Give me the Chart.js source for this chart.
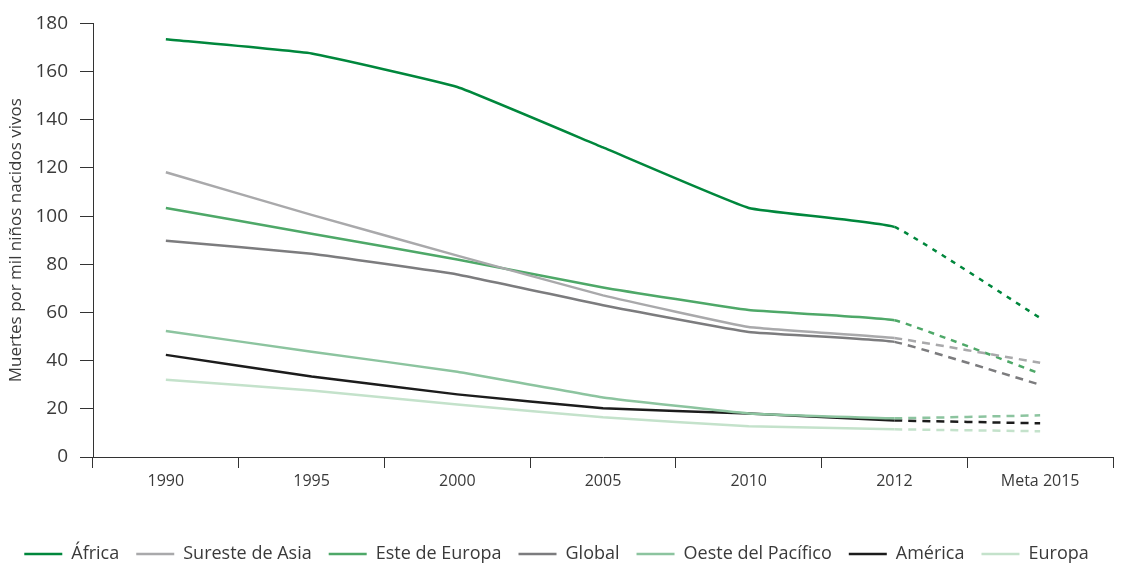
<!DOCTYPE html>
<html>
<head>
<meta charset="utf-8">
<script src="https://cdn.jsdelivr.net/npm/chart.js@4/dist/chart.umd.min.js"></script>
<style>
  html, body { margin: 0; padding: 0; background: #fff; }
  #wrap { width: 1141px; height: 564px; position: relative; }
</style>
</head>
<body>
<div id="wrap"><canvas id="chart"></canvas></div>
<script>
const years = ['1990', '1995', '2000', '2005', '2010', '2012', 'Meta 2015'];

const africa = [173.4, 167.5, 153.6, 128.5, 103.4, 95.5, 57.7];
const suresteAsia = [118.2, 100.5, 83.6, 67.1, 54, 49.4, 39.1];
const esteEuropa = [103.4, 92.7, 82, 70.4, 61, 56.8, 34.6];
const global = [89.8, 84.4, 75.8, 63, 51.9, 47.8, 30];
const oestePacifico = [52.3, 43.7, 35.4, 24.7, 18.1, 16.1, 17.3];
const america = [42.4, 33.4, 26, 20.2, 18.1, 15.2, 14];
const europa = [32.1, 27.6, 21.8, 16.5, 12.8, 11.5, 10.7];

const yTicks = [0, 20, 40, 60, 80, 100, 120, 140, 160, 180];

const FONT = '"Open Sans", "Noto Sans", sans-serif';
const TEXT = '#3a3a3a';
const AXIS = '#333333';

// last segment (2012 -> Meta 2015) is a target, drawn dashed
function series(label, data, color, dash) {
  return {
    label: label,
    data: data,
    borderColor: color,
    backgroundColor: color,
    borderWidth: 2.5,
    pointRadius: 0,
    pointHoverRadius: 0,
    tension: 0.1,
    fill: false,
    segment: {
      borderDash: ctx => ctx.p1DataIndex === data.length - 1 ? dash : undefined
    }
  };
}

const legendHeight = {
  id: 'legendHeight',
  beforeUpdate(chart) {
    const lg = chart.legend;
    if (lg && !lg._patched) {
      const fit = lg.fit.bind(lg);
      lg.fit = function() { fit(); this.height = 36; };
      lg._patched = true;
    }
  }
};

new Chart(document.getElementById('chart'), {
  type: 'line',
  data: {
    labels: years,
    datasets: [
      series('África', africa, '#00873c', [5, 6]),
      series('Sureste de Asia', suresteAsia, '#a9a9ab', [8, 6]),
      series('Este de Europa', esteEuropa, '#4ea868', [6, 6]),
      series('Global', global, '#7c7c7e', [8, 6]),
      series('Oeste del Pacífico', oestePacifico, '#8cc49f', [8, 6]),
      series('América', america, '#1c1c1c', [8, 6]),
      series('Europa', europa, '#c4e2cb', [8, 6])
    ]
  },
  options: {
    responsive: true,
    maintainAspectRatio: false,
    animation: false,
    layout: { padding: { top: 20, right: 28, left: 0, bottom: 0 } },
    plugins: {
      tooltip: { enabled: false },
      legend: {
        position: 'bottom',
        labels: {
          usePointStyle: true,
          pointStyle: 'line',
          pointStyleWidth: 38,
          boxHeight: 16,
          padding: 17,
          color: TEXT,
          font: { family: FONT, size: 18 }
        }
      }
    },
    scales: {
      x: {
        offset: true,
        grid: {
          offset: true,
          drawOnChartArea: false,
          tickLength: 11,
          color: AXIS,
          lineWidth: 1
        },
        border: { color: AXIS, width: 1 },
        ticks: {
          color: TEXT,
          padding: 4,
          maxRotation: 0,
          font: { family: FONT, size: 16 }
        },
        afterFit(scale) { scale.height = 71; }
      },
      y: {
        min: 0,
        max: 180,
        afterBuildTicks(scale) { scale.ticks = yTicks.map(v => ({ value: v })); },
        grid: {
          drawOnChartArea: false,
          tickLength: 13,
          color: AXIS,
          lineWidth: 1
        },
        border: { color: AXIS, width: 1 },
        ticks: {
          color: TEXT,
          padding: 12,
          font: { family: FONT, size: 19 }
        },
        title: {
          display: true,
          text: 'Muertes por mil niños nacidos vivos',
          color: TEXT,
          padding: { top: 6, bottom: 0 },
          font: { family: FONT, size: 17 }
        },
        afterFit(scale) { scale.width = 93; }
      }
    }
  },
  plugins: [legendHeight]
});
</script>
</body>
</html>
